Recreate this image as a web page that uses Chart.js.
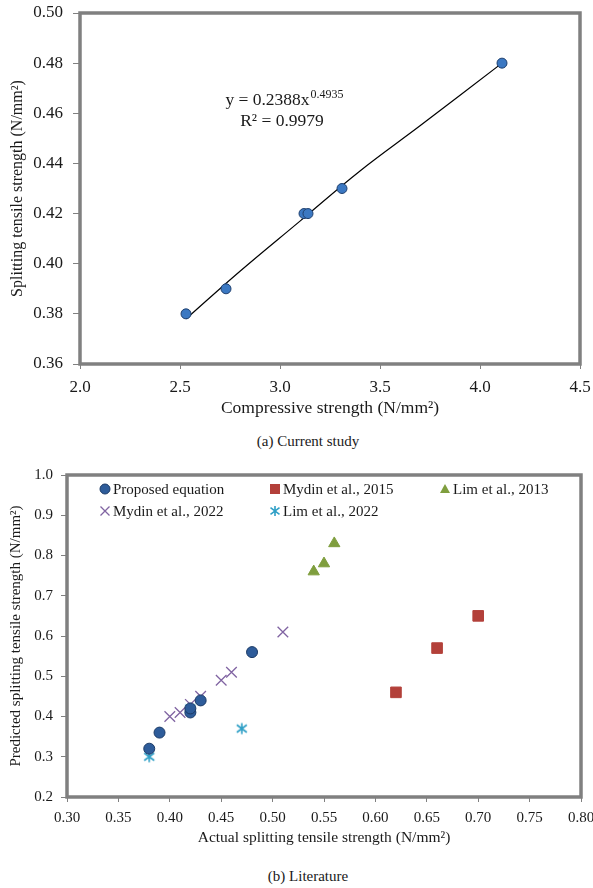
<!DOCTYPE html>
<html>
<head>
<meta charset="utf-8">
<title>Splitting tensile strength</title>
<script src="https://cdn.jsdelivr.net/npm/chart.js@4/dist/chart.umd.min.js"></script>
<style>
  body { margin: 0; background: #fff; }
  #page { position: relative; width: 593px; height: 888px; font-family: 'Liberation Serif', 'Times New Roman', serif; }
  #page canvas { position: absolute; left: 0; }
  .caption { position: absolute; left: 0; width: 616px; text-align: center; font-size: 15px; line-height: 18px; color: #1a1a1a; }
</style>
</head>
<body>
<div id="page">
  <canvas id="current" width="593" height="430" style="top:0"></canvas>
  <div class="caption" style="top:432px">(a) Current study</div>
  <canvas id="literature" width="593" height="405" style="top:455px"></canvas>
  <div class="caption" style="top:867px">(b) Literature</div>
</div>
<script>
// (a) Current study — compressive vs splitting tensile strength
const compressive = [2.53, 2.73, 3.12, 3.14, 3.31, 4.11];
const splitting = [0.38, 0.39, 0.42, 0.42, 0.43, 0.48];
// power trendline
const trendX = [2.53, 2.8, 3.1, 3.4, 3.7, 4.11];
const trendY = [0.378, 0.397, 0.417, 0.437, 0.455, 0.480];
const trendEquation = 'y = 0.2388x';
const trendExponent = '0.4935';
const trendR2 = 'R\u00b2 = 0.9979';

// (b) Literature — actual vs predicted splitting tensile strength
const proposedX = [0.38, 0.39, 0.42, 0.42, 0.43, 0.48];
const proposedY = [0.32, 0.36, 0.41, 0.42, 0.44, 0.56];
const mydin2015X = [0.62, 0.66, 0.70];
const mydin2015Y = [0.46, 0.57, 0.65];
const lim2013X = [0.54, 0.55, 0.56];
const lim2013Y = [0.76, 0.78, 0.83];
const mydin2022X = [0.40, 0.41, 0.42, 0.43, 0.45, 0.46, 0.51];
const mydin2022Y = [0.40, 0.41, 0.43, 0.45, 0.49, 0.51, 0.61];
const lim2022X = [0.38, 0.42, 0.47];
const lim2022Y = [0.30, 0.42, 0.37];

const seriesLabels = ['Proposed equation', 'Mydin et al., 2015', 'Lim et al., 2013', 'Mydin et al., 2022', 'Lim et al., 2022'];

const topXTicks = { min: 2.0, max: 4.5, step: 0.5 };
const topYTicks = { min: 0.36, max: 0.50, step: 0.02 };
const botXTicks = { min: 0.30, max: 0.80, step: 0.05 };
const botYTicks = { min: 0.2, max: 1.0, step: 0.1 };

Chart.defaults.font.family = "'Liberation Serif', 'Times New Roman', serif";
Chart.defaults.color = '#1a1a1a';

const FRAME = '#808080';
const INK = '#1a1a1a';

/** zip two arrays into {x, y} points */
function toPoints(xs, ys) {
  return xs.map((x, i) => ({ x, y: ys[i] }));
}

/** Excel's asterisk marker: an x with a vertical bar through it. */
function asteriskPath(ctx, x, y, r) {
  ctx.moveTo(x - r, y - r * 0.75); ctx.lineTo(x + r, y + r * 0.75);
  ctx.moveTo(x + r, y - r * 0.75); ctx.lineTo(x - r, y + r * 0.75);
  ctx.moveTo(x, y - r * 1.1); ctx.lineTo(x, y + r * 1.1);
}

function makeAsterisk(r, color, width) {
  const size = Math.ceil(r * 2 + 4);
  const c = document.createElement('canvas');
  c.width = size;
  c.height = size;
  const g = c.getContext('2d');
  g.strokeStyle = color;
  g.lineWidth = width;
  g.beginPath();
  asteriskPath(g, size / 2, size / 2, r);
  g.stroke();
  return c;
}

/** Draws a marker the way the chart does, used for the legend. */
function drawMarker(ctx, ds, x, y) {
  const r = ds.legendRadius;
  ctx.save();
  ctx.fillStyle = ds.backgroundColor;
  ctx.strokeStyle = ds.borderColor;
  ctx.lineWidth = ds.borderWidth;
  ctx.beginPath();
  if (ds.markerKind === 'circle') {
    ctx.arc(x, y, r, 0, Math.PI * 2);
    ctx.fill();
    ctx.stroke();
  } else if (ds.markerKind === 'rect') {
    ctx.rect(x - r, y - r, 2 * r, 2 * r);
    ctx.fill();
  } else if (ds.markerKind === 'triangle') {
    ctx.moveTo(x, y - r);
    ctx.lineTo(x + r, y + r * 0.8);
    ctx.lineTo(x - r, y + r * 0.8);
    ctx.closePath();
    ctx.fill();
  } else if (ds.markerKind === 'asterisk') {
    asteriskPath(ctx, x, y, r);
    ctx.stroke();
  } else {
    ctx.moveTo(x - r, y - r); ctx.lineTo(x + r, y + r);
    ctx.moveTo(x + r, y - r); ctx.lineTo(x - r, y + r);
    ctx.stroke();
  }
  ctx.restore();
}

/** Thick grey box round the plot area, Excel style. */
const framePlugin = {
  id: 'frame',
  afterDraw(chart) {
    const { ctx, chartArea: a } = chart;
    ctx.save();
    ctx.strokeStyle = FRAME;
    ctx.lineWidth = 3.5;
    ctx.strokeRect(a.left, a.top, a.right - a.left, a.bottom - a.top);
    ctx.restore();
  }
};

/** Trendline equation with a superscript exponent. */
const equationPlugin = {
  id: 'equation',
  afterDatasetsDraw(chart, args, opts) {
    if (!opts.at) return;
    const { ctx } = chart;
    const cx = chart.scales.x.getPixelForValue(opts.at[0]);
    const cy = chart.scales.y.getPixelForValue(opts.at[1]);
    const main = "17.5px 'Liberation Serif', serif";
    const sup = "12px 'Liberation Serif', serif";
    ctx.save();
    ctx.fillStyle = INK;
    ctx.textBaseline = 'middle';
    ctx.font = main;
    const w1 = ctx.measureText(trendEquation).width;
    ctx.font = sup;
    const w2 = ctx.measureText(trendExponent).width;
    const x0 = cx - (w1 + w2) / 2;
    ctx.font = main;
    ctx.textAlign = 'left';
    ctx.fillText(trendEquation, x0, cy);
    ctx.font = sup;
    ctx.fillText(trendExponent, x0 + w1 + 1, cy - 6);
    ctx.font = main;
    ctx.textAlign = 'center';
    ctx.fillText(trendR2, cx - 2, cy + opts.lineGap);
    ctx.restore();
  }
};

/** Legend laid out as a grid inside the plot area. */
const gridLegendPlugin = {
  id: 'gridLegend',
  afterDraw(chart, args, opts) {
    if (!opts.slots) return;
    const { ctx } = chart;
    chart.data.datasets.forEach((ds, i) => {
      const [x, y] = opts.slots[i];
      drawMarker(ctx, ds, x, y);
      ctx.save();
      ctx.font = opts.font;
      ctx.fillStyle = INK;
      ctx.textBaseline = 'middle';
      ctx.fillText(ds.label, x + opts.gap, y + 1);
      ctx.restore();
    });
  }
};

/** Fixed axis box; label overflow is left to the layout padding. */
function fixBox(size) {
  return (s) => {
    if (s.isHorizontal()) s.height = size; else s.width = size;
    s.paddingTop = 0;
    s.paddingBottom = 0;
    s.paddingLeft = 0;
    s.paddingRight = 0;
  };
}

function axis(range, decimals, title, opts) {
  return {
    type: 'linear',
    min: range.min,
    max: range.max,
    border: { display: false },
    grid: { drawOnChartArea: false, drawTicks: true, tickLength: opts.tickLength, color: FRAME },
    ticks: {
      stepSize: range.step,
      autoSkip: false,
      maxRotation: 0,
      padding: opts.padding,
      font: { size: opts.size },
      color: INK,
      callback: (v) => Number(v).toFixed(decimals)
    },
    title: { display: true, text: title, font: { size: opts.titleSize || opts.size }, color: INK, padding: opts.titlePadding },
    afterFit: fixBox(opts.box)
  };
}

new Chart(document.getElementById('current'), {
  type: 'scatter',
  data: {
    datasets: [
      {
        label: 'Current study',
        data: toPoints(compressive, splitting),
        pointStyle: 'circle',
        pointRadius: 5,
        backgroundColor: '#3b78c2',
        borderColor: '#1e3f6e',
        borderWidth: 1,
        order: 0
      },
      {
        label: 'Power trendline',
        type: 'line',
        data: toPoints(trendX, trendY),
        borderColor: '#000',
        borderWidth: 1.2,
        pointRadius: 0,
        tension: 0.4,
        fill: false,
        order: 1
      }
    ]
  },
  options: {
    responsive: false,
    animation: false,
    layout: { padding: { left: 0, right: 13, top: 13, bottom: 0 } },
    plugins: {
      legend: { display: false },
      tooltip: { enabled: false },
      equation: { at: [3.02, 0.465], lineGap: 21 }
    },
    scales: {
      x: axis(topXTicks, 1, 'Compressive strength (N/mm\u00b2)', {
        size: 17, titleSize: 17.5, tickLength: 5, padding: 8, titlePadding: { bottom: 11 }, box: 66
      }),
      y: axis(topYTicks, 2, 'Splitting tensile strength (N/mm\u00b2)', {
        size: 17, titleSize: 16, tickLength: 7, padding: 10, titlePadding: { top: 8 }, box: 80
      })
    }
  },
  plugins: [framePlugin, equationPlugin]
});

const markerSets = [
  { x: proposedX, y: proposedY, kind: 'circle', radius: 5.5, legendRadius: 5, fill: '#2e5c9a', line: '#1b3a66', width: 1 },
  { x: mydin2015X, y: mydin2015Y, kind: 'rect', radius: 7.5, legendRadius: 5, fill: '#b3403a', line: '#b3403a', width: 1 },
  { x: lim2013X, y: lim2013Y, kind: 'triangle', radius: 6.5, legendRadius: 5, fill: '#7f9e3e', line: '#7f9e3e', width: 1 },
  { x: mydin2022X, y: mydin2022Y, kind: 'crossRot', radius: 7.5, legendRadius: 4.5, fill: '#8064a2', line: '#8064a2', width: 1.3 },
  { x: lim2022X, y: lim2022Y, kind: 'asterisk', radius: 5, legendRadius: 4.5, fill: '#2e9fc6', line: '#2e9fc6', width: 1.6 }
];

new Chart(document.getElementById('literature'), {
  type: 'scatter',
  data: {
    datasets: markerSets.map((m, i) => ({
      label: seriesLabels[i],
      data: toPoints(m.x, m.y),
      markerKind: m.kind,
      pointStyle: m.kind === 'asterisk' ? makeAsterisk(m.radius, m.line, m.width) : m.kind,
      pointRadius: m.radius,
      legendRadius: m.legendRadius,
      backgroundColor: m.fill,
      borderColor: m.line,
      borderWidth: m.width
    }))
  },
  options: {
    responsive: false,
    animation: false,
    layout: { padding: { left: 0, right: 12, top: 20, bottom: 0 } },
    plugins: {
      legend: { display: false },
      tooltip: { enabled: false },
      gridLegend: {
        font: "15px 'Liberation Serif', serif",
        gap: 8,
        slots: [[105, 34], [275, 34], [445, 34], [105, 56], [275, 56]]
      }
    },
    scales: {
      x: axis(botXTicks, 2, 'Actual splitting tensile strength (N/mm\u00b2)', {
        size: 15, titleSize: 15.5, tickLength: 5, padding: 7, titlePadding: { bottom: 13 }, box: 63
      }),
      y: axis(botYTicks, 1, 'Predicted splitting tensile strength (N/mm\u00b2)', {
        size: 15, tickLength: 6, padding: 8, titlePadding: { top: 7 }, box: 67
      })
    }
  },
  plugins: [framePlugin, gridLegendPlugin]
});
</script>
</body>
</html>
